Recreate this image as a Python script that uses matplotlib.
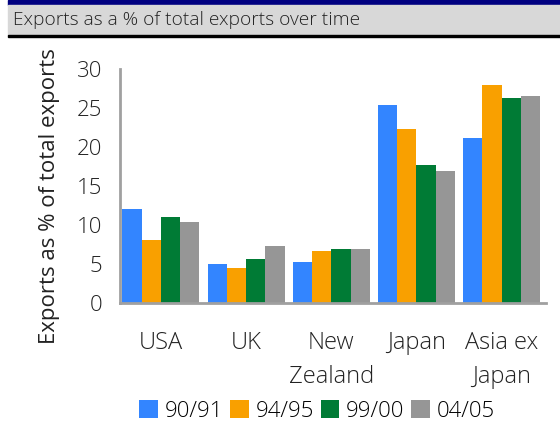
import matplotlib.pyplot as plt
from matplotlib.patches import Rectangle
import numpy as np

plt.rcParams['font.family'] = ['Open Sans', 'DejaVu Sans']
plt.rcParams['font.weight'] = 'light'

regions = ['USA', 'UK', 'New\nZealand', 'Japan', 'Asia ex\nJapan']
periods = ['90/91', '94/95', '99/00', '04/05']
share_9091 = [12.0, 5.0, 5.3, 25.4, 21.2]
share_9495 = [8.1, 4.5, 6.7, 22.3, 27.9]
share_9900 = [11.0, 5.6, 6.9, 17.7, 26.3]
share_0405 = [10.4, 7.3, 6.9, 16.9, 26.5]
colors = ['#3385ff', '#f9a000', '#007b35', '#969696']

series = [share_9091, share_9495, share_9900, share_0405]

fig = plt.figure(figsize=(5.6, 4.21), dpi=100)
ax = fig.add_axes([0.2143, 0.2803, 0.7607, 0.5557])

x = np.arange(len(regions))
w = 0.226
for k, (vals, col, lab) in enumerate(zip(series, colors, periods)):
    ax.bar(x + (k - 1.5) * w, vals, width=w, color=col, label=lab, linewidth=0)

ax.set_xlim(-0.48, 4.52)
ax.set_ylim(0, 30)
ax.set_yticks(range(0, 31, 5))
ax.set_xticks(x)
ax.set_xticklabels(regions, linespacing=1.55)
ax.tick_params(axis='both', length=0, colors='#222222')
ax.tick_params(axis='x', pad=20, labelsize=17)
ax.tick_params(axis='y', pad=13, labelsize=16)
for side in ['top', 'right']:
    ax.spines[side].set_visible(False)
for side in ['left', 'bottom']:
    ax.spines[side].set_color('#a0a0a0')
    ax.spines[side].set_linewidth(2)
ax.set_ylabel('Exports as % of total exports', fontsize=16, color='#222222', va='center')
ax.yaxis.set_label_coords(-0.165, 0.455)

# header strip
H = 421.0
fig.patches.append(Rectangle((8 / 560, 1 - 5 / H), 1, 5 / H, transform=fig.transFigure,
                             color='#000080', zorder=0))
fig.patches.append(Rectangle((8 / 560, 1 - 35 / H), 1, 30 / H, transform=fig.transFigure,
                             color='#d8d8d8', zorder=0))
fig.patches.append(Rectangle((8 / 560, 1 - 37 / H), 1, 2 / H, transform=fig.transFigure,
                             color='#000000', zorder=0))
fig.text(13 / 560, 1 - 20 / H, 'Exports as a % of total exports over time',
         fontsize=13.8, color='#222222', va='center', ha='left')

fig.legend(loc='center', bbox_to_anchor=(317 / 560, 1 - 411 / H), ncol=4, frameon=False,
           fontsize=16, handlelength=0.85, handleheight=0.85, handletextpad=0.3,
           columnspacing=0.3, borderaxespad=0)

fig.savefig('out.png', dpi=100)
